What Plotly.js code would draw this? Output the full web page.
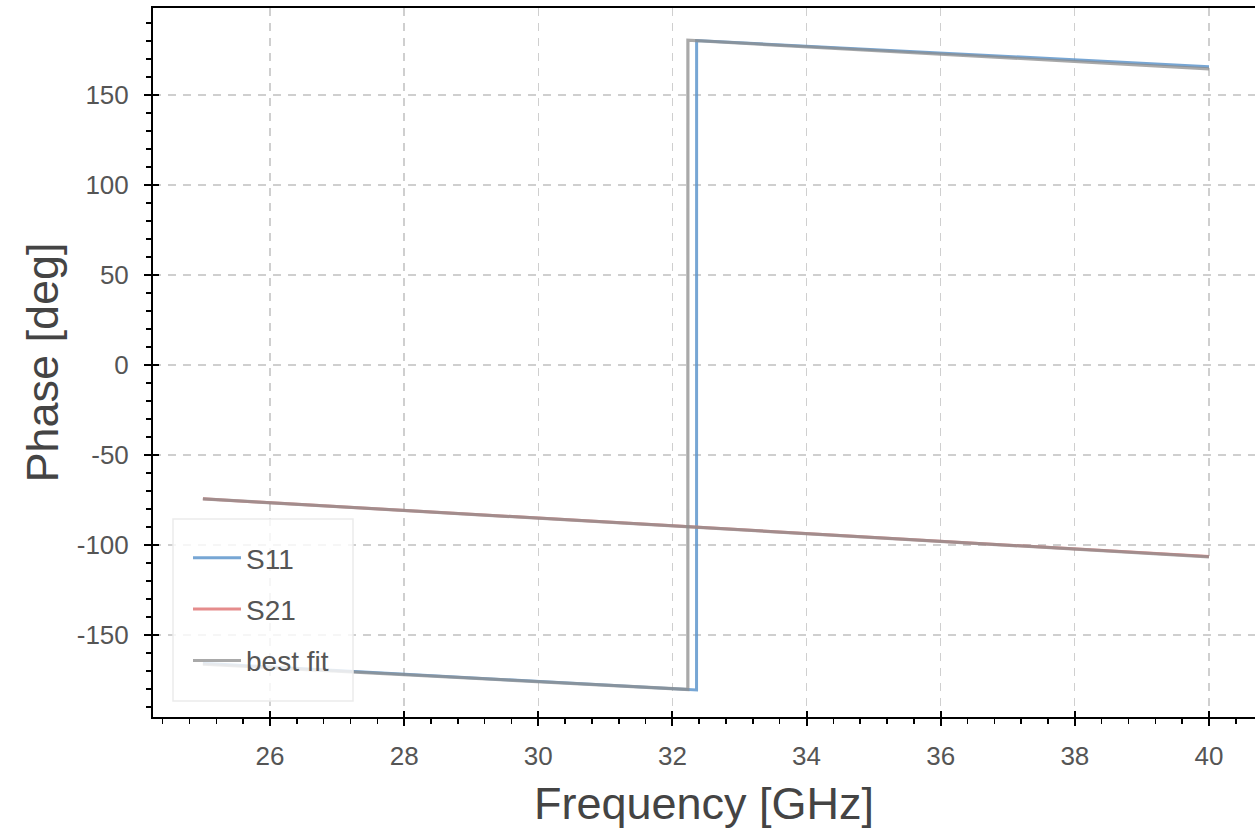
<!DOCTYPE html>
<html><head><meta charset="utf-8">
<script src="https://cdn.plot.ly/plotly-3.0.1.min.js"></script>
<style>body{margin:0;background:#fff}#chart{width:1255px;height:829px}</style>
</head><body><div id="chart"></div>
<script>
// Data
const s11Freq = [25, 32.36, 32.361, 40];
const s11Phase = [-165.8, -180.6, 180.2, 165.7];
const s21Freq = [25, 40];
const s21Phase = [-74.4, -106.5];
const fitS11Freq = [25, 32.23, 32.231, 40];
const fitS11Phase = [-166.3, -180.3, 180.4, 164.5];
const fitS21Freq = [25, 40];
const fitS21Phase = [-74.4, -106.6];
const xTickVals = [26, 28, 30, 32, 34, 36, 38, 40];
const xTickText = ['26', '28', '30', '32', '34', '36', '38', '40'];
const yTickVals = [-150, -100, -50, 0, 50, 100, 150];
const yTickText = ['-150', '-100', '-50', '0', '50', '100', '150'];

const blue = 'rgba(95,150,205,0.85)';
const red = 'rgba(225,120,120,0.85)';
const gray = 'rgba(140,140,140,0.75)';
const FONT = 'Liberation Sans, Arial, sans-serif';

const traces = [
  {x: s11Freq, y: s11Phase, name: 'S11', mode: 'lines', line: {color: blue, width: 3}, legendgroup: 'a'},
  {x: s21Freq, y: s21Phase, name: 'S21', mode: 'lines', line: {color: red, width: 3}, legendgroup: 'b'},
  {x: fitS11Freq, y: fitS11Phase, name: 'best fit', mode: 'lines', line: {color: gray, width: 3.2}, legendgroup: 'c'},
  {x: fitS21Freq, y: fitS21Phase, name: 'best fit', mode: 'lines', line: {color: gray, width: 3.2}, legendgroup: 'c', showlegend: false},
  {x: [30], y: [0], xaxis: 'x2', yaxis: 'y2', mode: 'markers', marker: {opacity: 0}, showlegend: false, hoverinfo: 'skip'}
];

const xr = [24.256, 40.686];
const yr = [-195.6, 198.3];
const tf = {family: FONT, size: 26, color: '#555'};

// plot area in pixels: left 153, right 1255, top 8, bottom 717
const px = v => (v - 153) / 1102;
const py = v => (717 - v) / 709;

const layout = {
  width: 1255, height: 829,
  margin: {l: 153, r: 0, t: 8, b: 112},
  paper_bgcolor: '#fff', plot_bgcolor: '#fff',
  showlegend: true,
  legend: {
    x: px(188), y: py(533), xanchor: 'left', yanchor: 'top',
    bgcolor: 'rgba(0,0,0,0)', borderwidth: 0,
    font: {family: FONT, size: 28, color: '#555'},
    traceorder: 'grouped', tracegroupgap: 12, itemwidth: 48
  },
  shapes: [{
    type: 'rect', xref: 'paper', yref: 'paper', layer: 'above',
    x0: px(173), x1: px(353), y0: py(701), y1: py(519),
    fillcolor: 'rgba(255,255,255,0.8)', line: {color: '#ebebeb', width: 1.5}
  }],
  xaxis: {
    range: xr, tickmode: 'array', tickvals: xTickVals, ticktext: xTickText,
    ticks: 'outside', ticklen: 7, tickwidth: 2, tickcolor: '#000',
    showline: true, linecolor: '#000', linewidth: 2, mirror: true,
    showgrid: true, gridcolor: '#cfcfcf', gridwidth: 1.3, griddash: '8px,7px',
    zeroline: false, tickfont: tf, ticklabelstandoff: 8,
    minor: {dtick: 0.4, tick0: 26, ticks: 'outside', ticklen: 5, tickwidth: 1.5, tickcolor: '#000', showgrid: false},
    title: {text: 'Frequency [GHz]', font: {family: FONT, size: 45, color: '#444'}, standoff: 17}
  },
  yaxis: {
    range: yr, tickmode: 'array', tickvals: yTickVals, ticktext: yTickText,
    ticks: 'outside', ticklen: 7, tickwidth: 2, tickcolor: '#000',
    showline: true, linecolor: '#000', linewidth: 2, mirror: false,
    showgrid: true, gridcolor: '#cfcfcf', gridwidth: 1.3, griddash: '8px,7px',
    zeroline: false, tickfont: tf, ticklabelstandoff: 10,
    minor: {dtick: 10, tick0: 0, ticks: 'outside', ticklen: 5, tickwidth: 1.5, tickcolor: '#000', showgrid: false},
    title: {text: 'Phase [deg]', font: {family: FONT, size: 45, color: '#444'}, standoff: 4}
  },
  xaxis2: {range: xr, overlaying: 'x', tickmode: 'array', tickvals: xTickVals, ticks: 'inside', ticklen: 6, tickwidth: 2, tickcolor: '#000', showticklabels: false, showgrid: false, zeroline: false, showline: false},
  yaxis2: {range: yr, overlaying: 'y', tickmode: 'array', tickvals: yTickVals, ticks: 'inside', ticklen: 6, tickwidth: 2, tickcolor: '#000', showticklabels: false, showgrid: false, zeroline: false, showline: false}
};

Plotly.newPlot('chart', traces, layout, {displayModeBar: false, staticPlot: true});
</script></body></html>
